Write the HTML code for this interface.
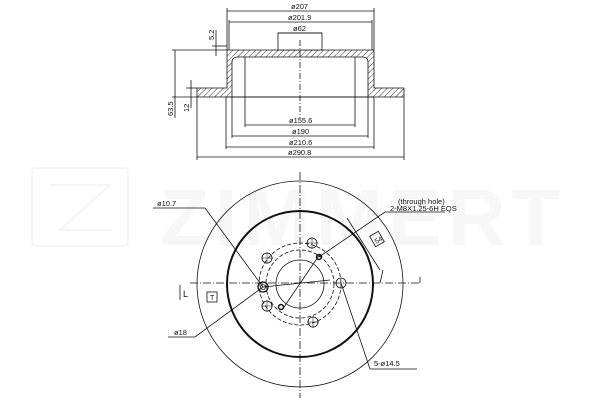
<!DOCTYPE html>
<html><head><meta charset="utf-8"><style>
html,body{margin:0;padding:0;background:#fff;}
svg{display:block;}
text{font-family:"Liberation Sans",sans-serif;font-size:7.5px;fill:#111;}
</style></head><body>
<svg width="600" height="400" viewBox="0 0 600 400" xmlns="http://www.w3.org/2000/svg">
<defs>
<pattern id="h" width="4" height="4" patternUnits="userSpaceOnUse" patternTransform="rotate(45)">
<line x1="0" y1="0" x2="0" y2="4" stroke="#333" stroke-width="1"/></pattern>
</defs>
<!-- watermark -->
<g fill="none" stroke="#f2f2f2" stroke-width="1.5">
<rect x="32" y="168" width="96" height="78" rx="4"/>
<path d="M50 185 H110 L60 230 H112"/>
</g>
<text x="160" y="245" style="font-size:80px;fill:#f7f7f7;font-weight:bold;letter-spacing:6px">ZIMMERT</text>

<!-- TOP VIEW -->
<g stroke="#111" fill="none" stroke-width="0.8">
<path d="M197 88 H227 V50 H374 V88 H404 V97 H197 Z" fill="url(#h)"/>
<path d="M232 97 V62 Q232 57 238 57 H362 Q368 57 368 62 V97 Z" fill="#fff"/>
<line x1="227" y1="97" x2="374" y2="97"/>
<rect x="278" y="33" width="44" height="17" fill="#fff"/>
<line x1="300" y1="40" x2="300" y2="118" stroke-dasharray="6,2,1,2"/>
<line x1="227" y1="8" x2="227" y2="50"/><line x1="374" y1="8" x2="374" y2="50"/>
<line x1="227" y1="11" x2="374" y2="11"/>
<line x1="229" y1="22" x2="372" y2="22"/>
<line x1="229" y1="20" x2="229" y2="50"/><line x1="372" y1="20" x2="372" y2="50"/>
<line x1="278" y1="33" x2="322" y2="33"/>
<line x1="245" y1="57" x2="245" y2="127"/><line x1="355" y1="57" x2="355" y2="127"/>
<line x1="245" y1="125" x2="355" y2="125"/>
<line x1="232" y1="97" x2="232" y2="138"/><line x1="368" y1="97" x2="368" y2="138"/>
<line x1="232" y1="136" x2="368" y2="136"/>
<line x1="226" y1="97" x2="226" y2="149"/><line x1="374" y1="97" x2="374" y2="149"/>
<line x1="226" y1="147" x2="374" y2="147"/>
<line x1="197" y1="97" x2="197" y2="160"/><line x1="404" y1="97" x2="404" y2="160"/>
<line x1="197" y1="157" x2="404" y2="157"/>
<line x1="172" y1="50" x2="227" y2="50"/><line x1="172" y1="97" x2="197" y2="97"/>
<line x1="175" y1="50" x2="175" y2="118"/>
<line x1="191" y1="80" x2="191" y2="108"/><line x1="186" y1="88" x2="197" y2="88"/>
<line x1="216" y1="30" x2="216" y2="56"/><line x1="212" y1="46" x2="227" y2="46"/>
</g>
<text x="291" y="9">ø207</text>
<text x="288" y="20">ø201.9</text>
<text x="293" y="31">ø62</text>
<text x="289" y="123">ø155.6</text>
<text x="292" y="134">ø190</text>
<text x="289" y="145">ø210.6</text>
<text x="288" y="155">ø290.8</text>
<text transform="translate(173,116) rotate(-90)">63.5</text>
<text transform="translate(189,112) rotate(-90)">12</text>
<text transform="translate(214,40) rotate(-90)">5.2</text>

<!-- BOTTOM VIEW -->
<g stroke="#111" fill="none" stroke-width="0.8">
<line x1="300" y1="172" x2="300" y2="398" stroke-dasharray="8,2,1,2"/>
<line x1="190" y1="283" x2="420" y2="283" stroke-dasharray="8,2,1,2"/>
<circle cx="300" cy="284" r="103"/>
<circle cx="300" cy="284" r="73" stroke-width="2"/>
<circle cx="300" cy="284" r="24"/>
<circle cx="300" cy="284" r="34" stroke-dasharray="4,2"/>
<circle cx="300" cy="284" r="41" stroke-dasharray="4,2"/>
<circle cx="267" cy="258" r="5"/><circle cx="312" cy="243" r="5"/>
<circle cx="341" cy="283" r="5"/><circle cx="313" cy="322" r="5"/>
<circle cx="267" cy="306" r="5"/>
<path d="M261 258h12M267 252v12M306 243h12M312 237v12M307 322h12M313 316v12M261 306h12M267 300v12" stroke-width="0.5"/>
<circle cx="319" cy="257" r="2.5" stroke-width="1.5"/>
<circle cx="281" cy="307" r="2.5" stroke-width="1.5"/>
<circle cx="263" cy="287" r="5" stroke-width="1.3"/>
<circle cx="263" cy="287" r="2.5"/>
<line x1="282" y1="310" x2="320" y2="254"/>
<polyline points="153,208 205,208 263,287"/>
<polyline points="168,337 195,337 263,287 330,280"/>
<polyline points="445,212 385,212 319,257"/>
<polyline points="417,369 370,369 341,283"/>
<polyline points="180,285 180,300"/><polyline points="420,277 420,283"/>
<path d="M347,218 L380,270" />
<line x1="380" y1="283" x2="383" y2="270"/>
<rect x="207" y="292" width="10" height="10"/>
<rect x="372" y="233" width="10" height="12" transform="rotate(-30 377 239)"/>
</g>
<text x="157" y="206">ø10.7</text>
<text x="398" y="204">(through hole)</text>
<text x="390" y="211">2-M8X1.25-6H EQS</text>
<text x="174" y="335">ø18</text>
<text x="374" y="366">5-ø14.5</text>
<text x="183" y="297" style="font-size:9px">L</text>
<text x="210" y="300" style="font-size:7px">T</text>
<text x="374" y="243" transform="rotate(-30 377 239)" style="font-size:7px">54</text>
</svg>
</body></html>
